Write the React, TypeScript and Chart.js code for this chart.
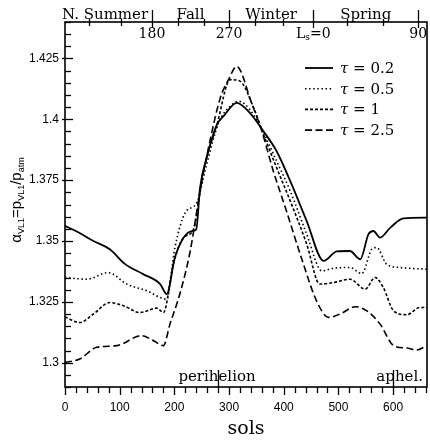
import React, { useEffect, useRef } from "react";
import { Chart, registerables } from "chart.js";

Chart.register(...registerables);

// ---- data (sols vs. alpha_VL1) ----
const tau02Sols = [0, 25, 52, 82, 110, 143, 174, 186, 201, 217, 232, 240, 247, 259, 278, 290, 314, 338, 363, 387, 412, 442, 473, 497, 521, 540, 555, 564, 576, 595, 619, 662];
const tau02Vals = [1.3562, 1.3535, 1.35, 1.3466, 1.3405, 1.3364, 1.3323, 1.3282, 1.3432, 1.3514, 1.3541, 1.3548, 1.3719, 1.3842, 1.3979, 1.4013, 1.4068, 1.4027, 1.3951, 1.3869, 1.3746, 1.3582, 1.3418, 1.3457, 1.3459, 1.3425, 1.3528, 1.3541, 1.3514, 1.3555, 1.3593, 1.3596];

const tau05Sols = [0, 40, 79, 113, 150, 186, 201, 220, 241, 259, 281, 302, 318, 338, 363, 387, 412, 442, 470, 491, 521, 543, 561, 570, 588, 613, 662];
const tau05Vals = [1.335, 1.3343, 1.337, 1.3323, 1.3295, 1.3261, 1.3473, 1.3617, 1.3658, 1.3815, 1.3986, 1.4054, 1.4074, 1.404, 1.3945, 1.3828, 1.3705, 1.3528, 1.3377, 1.3388, 1.3391, 1.3366, 1.3466, 1.3473, 1.3405, 1.3391, 1.3384];

const tau1Sols = [0, 27, 52, 82, 107, 137, 168, 180, 198, 217, 235, 253, 278, 302, 320, 345, 363, 387, 412, 442, 466, 491, 521, 549, 567, 582, 601, 625, 649, 662];
const tau1Vals = [1.3188, 1.3165, 1.32, 1.3247, 1.3234, 1.3206, 1.3224, 1.3206, 1.3405, 1.3514, 1.3548, 1.3787, 1.3979, 1.4163, 1.4157, 1.4047, 1.3938, 1.3801, 1.3664, 1.3487, 1.3323, 1.3329, 1.3343, 1.3302, 1.335, 1.3309, 1.3213, 1.3197, 1.3227, 1.3227];

const tau25Sols = [0, 27, 58, 95, 140, 162, 180, 192, 210, 229, 247, 265, 284, 299, 314, 322, 338, 360, 381, 405, 436, 460, 482, 503, 531, 552, 576, 601, 625, 643, 662];
const tau25Vals = [1.3001, 1.3015, 1.3063, 1.307, 1.3111, 1.309, 1.307, 1.3159, 1.3282, 1.3459, 1.3705, 1.391, 1.4088, 1.4163, 1.4218, 1.4195, 1.4088, 1.3951, 1.3787, 1.3623, 1.3405, 1.3254, 1.3186, 1.32, 1.323, 1.3213, 1.3159, 1.307, 1.306, 1.3052, 1.307];

const tauLabels = ["0.2", "0.5", "1", "2.5"];

// ---- axes ----
const xTicks = [0, 100, 200, 300, 400, 500, 600];
const yTicks = [1.3, 1.325, 1.35, 1.375, 1.4, 1.425];
const xMin = 0;
const xMax = 662;
const yMin = 1.29;
const yMax = 1.44;

// top axis: areocentric longitude Ls (deg) and the sol where it is reached
const lsDegrees = [120, 150, 180, 210, 240, 270, 300, 330, 0, 30, 60, 90];
const lsSols = [44, 102, 159, 207, 254, 300, 348, 399, 454, 516, 582, 646];
const lsLabelDegrees = [180, 270, 0, 90];
const seasonNames = ["N. Summer", "Fall", "Winter", "Spring"];

// orbit markers
const orbitMarkSols = [280, 600];
const orbitLabels = ["perihelion", "aphel."];
const orbitLabelSols = [278, 612];

const SERIF = "'DejaVu Serif', serif";
const SANS = "'Liberation Sans', Arial, sans-serif";

function pts(xs: number[], ys: number[]) {
  return xs.map((x, i) => ({ x, y: ys[i] }));
}

const overlay = {
  id: "overlay",
  afterDraw(chart: any) {
    const ctx: CanvasRenderingContext2D = chart.ctx;
    const xs = chart.scales.x;
    const ys = chart.scales.y;
    const { left, right, top, bottom } = chart.chartArea;
    ctx.save();
    ctx.strokeStyle = "#000";
    ctx.fillStyle = "#000";
    ctx.setLineDash([]);

    // frame
    ctx.lineWidth = 1.6;
    ctx.strokeRect(left, top, right - left, bottom - top);

    // y ticks (inside)
    ctx.lineWidth = 1.3;
    for (let k = Math.ceil(yMin * 200); k <= Math.floor(yMax * 200); k++) {
      const v = k / 200;
      const py = Math.round(ys.getPixelForValue(v)) + 0.5;
      const major = k % 5 === 0;
      ctx.beginPath();
      ctx.moveTo(left - (major ? 3 : 0), py);
      ctx.lineTo(left + (major ? 8 : 6), py);
      ctx.stroke();
    }
    // x ticks (outside, below)
    for (let s = 0; s <= xMax; s += 20) {
      const px = Math.round(xs.getPixelForValue(s)) + 0.5;
      const major = s % 100 === 0;
      ctx.beginPath();
      ctx.moveTo(px, bottom);
      ctx.lineTo(px, bottom + (major ? 8 : 6));
      ctx.stroke();
    }

    // top Ls ticks
    lsSols.forEach((s, i) => {
      const px = Math.round(xs.getPixelForValue(s)) + 0.5;
      const major = lsDegrees[i] % 90 === 0;
      ctx.beginPath();
      ctx.moveTo(px, top - (major ? 12 : 3));
      ctx.lineTo(px, top + (major ? 6 : 4));
      ctx.stroke();
    });
    // Ls labels
    ctx.font = `14px ${SERIF}`;
    ctx.textBaseline = "alphabetic";
    lsLabelDegrees.forEach((deg) => {
      const idx = lsDegrees.indexOf(deg);
      const px = xs.getPixelForValue(lsSols[idx]);
      if (deg === 0) {
        ctx.font = `14px ${SERIF}`;
        const wL = ctx.measureText("L").width;
        const wEq = ctx.measureText("=0").width;
        ctx.font = `9px ${SERIF}`;
        const wS = ctx.measureText("s").width;
        const total = wL + wS + wEq;
        let cx = px - total / 2;
        ctx.textAlign = "left";
        ctx.font = `14px ${SERIF}`;
        ctx.fillText("L", cx, 38);
        cx += wL;
        ctx.font = `9px ${SERIF}`;
        ctx.fillText("s", cx, 40);
        cx += wS;
        ctx.font = `14px ${SERIF}`;
        ctx.fillText("=0", cx, 38);
      } else {
        ctx.textAlign = "center";
        ctx.font = `14px ${SERIF}`;
        ctx.fillText(String(deg), px, 38);
      }
    });

    // seasons
    ctx.font = `15px ${SERIF}`;
    const bounds = [180, 270, 0, 90].map((d) => xs.getPixelForValue(lsSols[lsDegrees.indexOf(d)]));
    ctx.textAlign = "left";
    ctx.fillText(seasonNames[0], left - 3, 19);
    ctx.textAlign = "center";
    for (let i = 1; i < seasonNames.length; i++) {
      ctx.fillText(seasonNames[i], (bounds[i - 1] + bounds[i]) / 2, 19);
    }

    // orbit markers
    ctx.font = `15px ${SERIF}`;
    ctx.textAlign = "center";
    orbitLabels.forEach((lab, i) => {
      const px = Math.round(xs.getPixelForValue(orbitMarkSols[i])) + 0.5;
      ctx.beginPath();
      ctx.moveTo(px, bottom - 17);
      ctx.lineTo(px, bottom);
      ctx.stroke();
      ctx.fillText(lab, xs.getPixelForValue(orbitLabelSols[i]), bottom - 6);
    });

    // legend
    chart.data.datasets.forEach((ds: any, i: number) => {
      const y = 68 + i * 20.7;
      ctx.save();
      ctx.lineWidth = ds.borderWidth;
      ctx.setLineDash(ds.borderDash || []);
      ctx.beginPath();
      ctx.moveTo(305, y);
      ctx.lineTo(333, y);
      ctx.stroke();
      ctx.restore();
      ctx.textAlign = "left";
      ctx.font = `italic 15px ${SERIF}`;
      ctx.fillText("τ", 340, y + 5);
      const wt = ctx.measureText("τ").width;
      ctx.font = `15px ${SERIF}`;
      ctx.fillText(" = " + tauLabels[i], 340 + wt, y + 5);
    });

    // y-axis title
    ctx.save();
    ctx.translate(16, 200);
    ctx.rotate(-Math.PI / 2);
    const parts: [string, boolean][] = [
      ["α", false], ["VL1", true], ["=p", false], ["VL1", true], ["/p", false], ["atm", true],
    ];
    const bigF = `15px ${SANS}`;
    const subF = `9px ${SANS}`;
    let total = 0;
    parts.forEach(([t, sub]) => {
      ctx.font = sub ? subF : bigF;
      total += ctx.measureText(t).width;
    });
    let cx = -total / 2;
    ctx.textAlign = "left";
    parts.forEach(([t, sub]) => {
      ctx.font = sub ? subF : bigF;
      ctx.fillText(t, cx, sub ? 8 : 5);
      cx += ctx.measureText(t).width;
    });
    ctx.restore();

    ctx.restore();
  },
};

export default function App() {
  const ref = useRef<HTMLCanvasElement | null>(null);
  useEffect(() => {
    if (!ref.current) return;
    const common = {
      pointRadius: 0,
      fill: false,
      borderColor: "#000",
      backgroundColor: "#000",
      cubicInterpolationMode: "monotone" as const,
      borderCapStyle: "butt" as const,
    };
    const chart = new Chart(ref.current, {
      type: "line",
      data: {
        datasets: [
          { ...common, label: "τ = 0.2", data: pts(tau02Sols, tau02Vals), borderWidth: 1.8, borderDash: [] },
          { ...common, label: "τ = 0.5", data: pts(tau05Sols, tau05Vals), borderWidth: 1.6, borderDash: [1.5, 2.6] },
          { ...common, label: "τ = 1", data: pts(tau1Sols, tau1Vals), borderWidth: 1.6, borderDash: [3, 2] },
          { ...common, label: "τ = 2.5", data: pts(tau25Sols, tau25Vals), borderWidth: 1.6, borderDash: [7, 3.5] },
        ],
      },
      options: {
        animation: false,
        responsive: false,
        devicePixelRatio: 1,
        layout: { padding: { top: 22, right: 3, left: 0, bottom: 0 } },
        plugins: { legend: { display: false }, tooltip: { enabled: false } },
        scales: {
          x: {
            type: "linear",
            position: "bottom",
            min: xMin,
            max: xMax,
            grid: { display: false, drawTicks: false },
            border: { display: false },
            afterBuildTicks: (s: any) => { s.ticks = xTicks.map((v) => ({ value: v })); },
            afterFit: (s: any) => { s.height = 53; },
            ticks: {
              color: "#000",
              padding: 13,
              maxRotation: 0,
              font: { family: SANS, size: 12 },
              callback: (v: any) => String(v),
            },
            title: {
              display: true,
              text: "sols",
              color: "#000",
              font: { family: SERIF, size: 19 },
              padding: { top: 0, bottom: 0 },
            },
          },
          y: {
            type: "linear",
            min: yMin,
            max: yMax,
            grid: { display: false, drawTicks: false },
            border: { display: false },
            afterBuildTicks: (s: any) => { s.ticks = yTicks.map((v) => ({ value: v })); },
            afterFit: (s: any) => { s.width = 65; },
            ticks: {
              color: "#000",
              padding: 6,
              font: { family: SANS, size: 12 },
              callback: (v: any) => String(v),
            },
          },
        },
      },
      plugins: [overlay],
    });
    return () => chart.destroy();
  }, []);
  return (
    <div style={{ position: "absolute", left: 0, top: 0, width: 430, height: 440, background: "#fff" }}>
      <canvas ref={ref} width={430} height={440} />
    </div>
  );
}
